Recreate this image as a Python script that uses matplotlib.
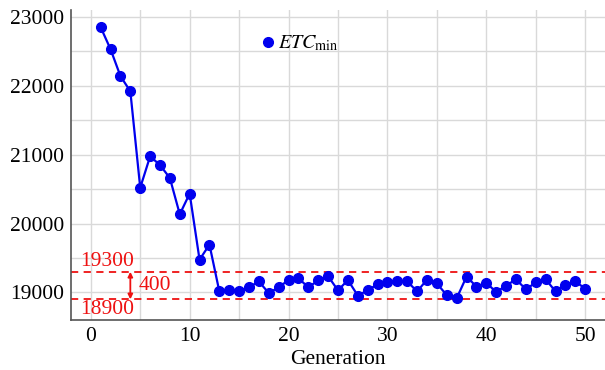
import matplotlib.pyplot as plt
from matplotlib.lines import Line2D
from matplotlib.ticker import MultipleLocator

plt.rcParams['font.family'] = ['Liberation Serif', 'DejaVu Serif']
plt.rcParams['mathtext.fontset'] = 'stix'

generation = list(range(1, 51))
etc_min = [22850, 22530, 22140, 21920, 20520, 20975, 20850, 20660, 20135, 20435,
           19475, 19695, 19015, 19040, 19020, 19075, 19160, 18990, 19075, 19180,
           19205, 19075, 19175, 19235, 19030, 19180, 18955, 19030, 19120, 19150,
           19160, 19160, 19015, 19185, 19130, 18960, 18915, 19230, 19085, 19140,
           19005, 19100, 19190, 19045, 19145, 19190, 19015, 19115, 19160, 19055]
upper_bound = 19300
lower_bound = 18900
arrow_x = 4

blue = '#0000ee'
red = '#ee1111'
fs = 15.5

fig = plt.figure(figsize=(6.05, 3.7), dpi=100)
ax = fig.add_axes([71 / 605, 50 / 370, 534 / 605, 310 / 370])

ax.plot(generation, etc_min, color=blue, lw=1.6, marker='o', markersize=7, zorder=3)

ax.axhline(upper_bound, color=red, ls=(0, (4, 3)), lw=1.3)
ax.axhline(lower_bound, color=red, ls=(0, (4, 3)), lw=1.3)
ax.annotate('', xy=(arrow_x, lower_bound), xytext=(arrow_x, upper_bound),
            arrowprops=dict(arrowstyle='<|-|>', color=red, lw=1.3,
                            mutation_scale=7, shrinkA=0, shrinkB=0))
ax.text(arrow_x + 0.8, (upper_bound + lower_bound) / 2, str(upper_bound - lower_bound),
        color=red, fontsize=fs, va='center', ha='left')
ax.text(-1.1, upper_bound + 15, str(upper_bound), color=red, fontsize=fs,
        va='bottom', ha='left')
ax.text(-1.1, lower_bound - 15, str(lower_bound), color=red, fontsize=fs,
        va='top', ha='left')

ax.set_xlim(-2, 52)
ax.set_ylim(18600, 23100)
ax.xaxis.set_major_locator(MultipleLocator(10))
ax.xaxis.set_minor_locator(MultipleLocator(5))
ax.yaxis.set_major_locator(MultipleLocator(1000))
ax.yaxis.set_minor_locator(MultipleLocator(500))
ax.grid(True, which='both', color='#d9d9d9', lw=1)
ax.set_axisbelow(True)
ax.tick_params(which='both', length=0, labelsize=fs, colors='black', pad=5)
for side in ['top', 'right']:
    ax.spines[side].set_visible(False)
for side in ['left', 'bottom']:
    ax.spines[side].set_color('#555555')
    ax.spines[side].set_linewidth(1.2)

ax.set_xlabel('Generation', fontsize=fs, labelpad=3)
handle = Line2D([], [], ls='', marker='o', markersize=7, color=blue)
ax.legend([handle], [r'$ETC_{\mathrm{min}}$'], loc='upper left',
          bbox_to_anchor=(0.34, 0.955), frameon=False, fontsize=14.5,
          handlelength=0.5, handletextpad=0.25, borderpad=0)

fig.savefig('out.png', dpi=100)
